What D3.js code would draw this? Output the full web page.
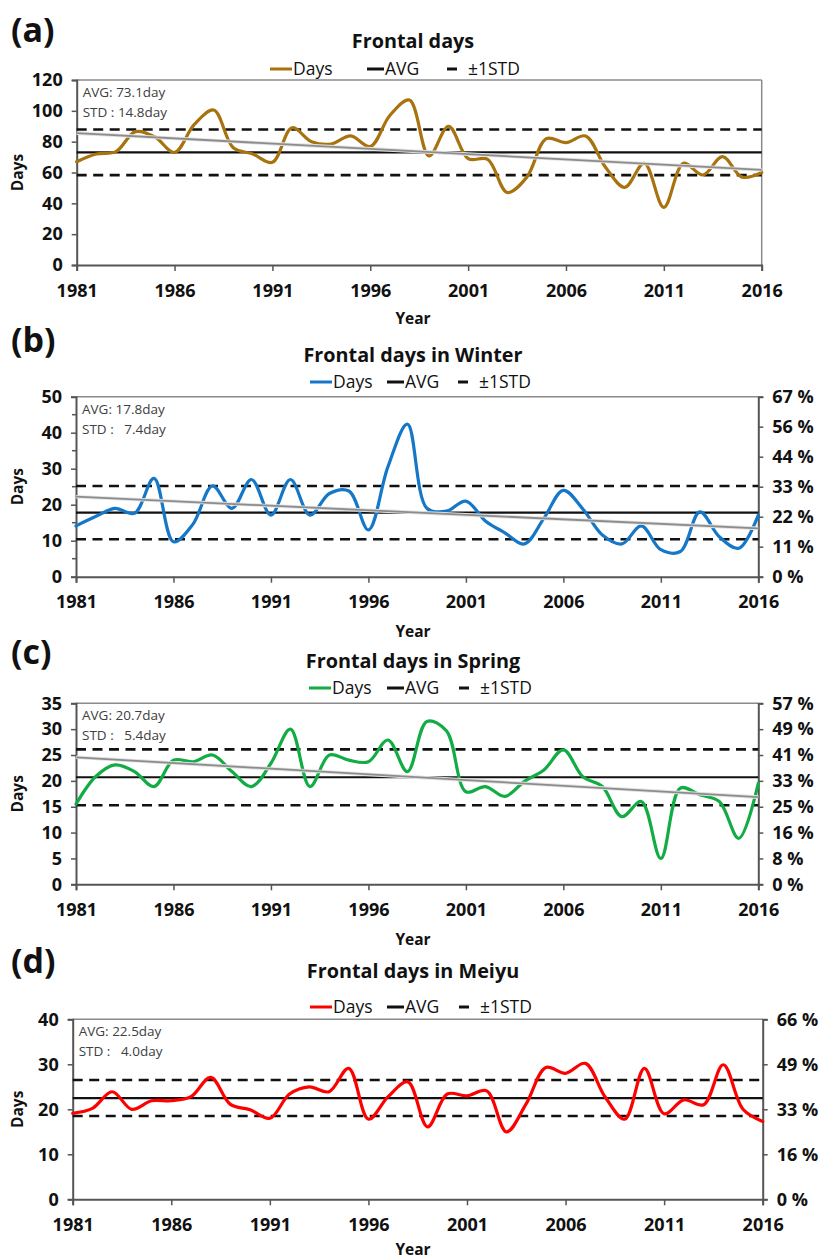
<!DOCTYPE html>
<html>
<head>
<meta charset="utf-8">
<script src="https://cdn.jsdelivr.net/npm/d3@7"></script>
<style>
  html, body { margin: 0; padding: 0; background: #fff; }
  svg { display: block; font-family: "Open Sans", "Noto Sans", "DejaVu Sans", sans-serif; }
  .pre { white-space: pre; }
</style>
</head>
<body>
<svg id="chart" width="822" height="1259"></svg>
<script>
// ---- data -------------------------------------------------------------
const years = d3.range(1981, 2017);

const allDays = [67, 72, 73.5, 86.5, 83, 73, 91, 100.5, 76, 72, 66.6, 89, 80, 78.5, 83.7, 76.8, 97, 107,
  70.7, 90, 69, 68.5, 47, 57, 82, 79.4, 83.7, 63.8, 50.4, 66, 37.4, 66, 58.4, 70.3, 57, 60];
const winterDays = [14.1, 16.7, 19, 17.6, 27.3, 9.7, 14.6, 25.2, 19, 27, 17.1, 27, 17.1, 23.1, 23.8, 13, 30.5, 42.4,
  19, 18.2, 21, 15.5, 12.2, 9.1, 16.2, 24, 18.8, 11.6, 9.1, 14.1, 7.5, 7, 18, 11.1, 7.9, 17.1];
const springDays = [15.5, 20.8, 23.1, 21.8, 18.9, 24, 23.7, 25, 21.8, 18.9, 23.4, 30, 18.9, 25, 24, 23.7, 27.9, 21.8,
  31.5, 29.7, 17.9, 18.9, 17, 19.9, 22.1, 26, 20.8, 18.9, 13.1, 16, 5, 18.6, 17.3, 16, 8.9, 19.5];
const meiyuDays = [19.1, 20.2, 23.9, 20, 21.9, 21.9, 22.8, 27.1, 21.1, 19.9, 18, 23.4, 25, 23.9, 29.1, 17.8, 22.8, 26.1,
  16.1, 23.4, 23, 24.1, 15, 21.2, 29.3, 28, 30.2, 22.8, 17.8, 29.1, 19, 22.1, 21, 29.9, 20, 17.3];

const panelSeries = [allDays, winterDays, springDays, meiyuDays];
const panelLetters = ["(a)", "(b)", "(c)", "(d)"];
const panelTitles = ["Frontal days", "Frontal days in Winter", "Frontal days in Spring", "Frontal days in Meiyu"];
const avgValues = [73.1, 17.8, 20.7, 22.5];
const stdValues = [14.8, 7.4, 5.4, 4.0];
const yMaxValues = [120, 50, 35, 40];
const yStepValues = [20, 10, 5, 10];
const seasonLengths = [null, 75, 61, 61];   // days in season, for the % axis
const pctDivisions = [0, 6, 7, 4];          // number of intervals on the % axis
const showTrend = [true, true, true, false];
const xTickYears = [1981, 1986, 1991, 1996, 2001, 2006, 2011, 2016];
const legendLabels = ["Days", "AVG", "\u00B11STD"];

// ---- layout -----------------------------------------------------------
const lineColors = ["#A8730F", "#1577C8", "#12AC45", "#FF0000"];
const frames = [
  { left: 76.7, right: 761.7, top: 80, bottom: 265, letterY: 42, titleY: 48, legendY: 75, yearY: 324,
    legendX: [270, 367, 447], minor: false },
  { left: 76, right: 758.3, top: 396.7, bottom: 576.7, letterY: 352, titleY: 362, legendY: 388, yearY: 637,
    legendX: [310, 387, 458], minor: true },
  { left: 76, right: 758.3, top: 703.3, bottom: 884.3, letterY: 664, titleY: 668, legendY: 694, yearY: 945,
    legendX: [309, 387, 459], minor: false },
  { left: 72.7, right: 762.7, top: 1019.3, bottom: 1199.3, letterY: 973, titleY: 978, legendY: 1013, yearY: 1255,
    legendX: [310, 387, 459], minor: false }
];
const legendLens = [22, 17, 10];

const svg = d3.select("#chart");
const axisColor = "#555";
const frameColor = "#8a8a8a";
const tickFont = "'Open Sans', sans-serif";

function linearFit(xs, ys) {
  const mx = d3.mean(xs), my = d3.mean(ys);
  let num = 0, den = 0;
  xs.forEach((x, i) => { num += (x - mx) * (ys[i] - my); den += (x - mx) * (x - mx); });
  const b = num / den;
  return x => my + b * (x - mx);
}

function styleAxis(sel) {
  sel.select(".domain").attr("stroke", axisColor).attr("stroke-width", 2);
  sel.selectAll(".tick line").attr("stroke", axisColor).attr("stroke-width", 1.5);
  sel.selectAll("text").attr("font-size", 18).attr("font-weight", 700).attr("fill", "#111")
    .attr("font-family", tickFont);
}

panelSeries.forEach((series, p) => {
  const f = frames[p];
  const g = svg.append("g");
  const x = d3.scaleLinear().domain([1981, 2016]).range([f.left, f.right]);
  const y = d3.scaleLinear().domain([0, yMaxValues[p]]).range([f.bottom, f.top]);
  const midX = 413;

  // panel letter
  g.append("text").attr("x", 11).attr("y", f.letterY)
    .attr("font-size", 34).attr("font-weight", 700).attr("fill", "#111")
    .text(panelLetters[p]);

  // title
  g.append("text").attr("x", midX).attr("y", f.titleY).attr("text-anchor", "middle")
    .attr("font-size", 19.8).attr("font-weight", 700).attr("fill", "#111")
    .text(panelTitles[p]);

  // legend
  const legColors = [lineColors[p], "#111", "#111"];
  legendLabels.forEach((label, i) => {
    const x0 = f.legendX[i];
    g.append("line").attr("x1", x0).attr("x2", x0 + legendLens[i])
      .attr("y1", f.legendY - 6).attr("y2", f.legendY - 6)
      .attr("stroke", legColors[i]).attr("stroke-width", 3);
    g.append("text").attr("x", x0 + legendLens[i] + (i === 2 ? 11 : 1)).attr("y", f.legendY)
      .attr("font-size", 17.5).attr("fill", "#111").text(label);
  });

  // plot frame (top and right)
  g.append("line").attr("x1", f.left).attr("x2", f.right).attr("y1", f.top).attr("y2", f.top)
    .attr("stroke", frameColor).attr("stroke-width", 1.5);
  if (!seasonLengths[p]) {
    g.append("line").attr("x1", f.right).attr("x2", f.right).attr("y1", f.top).attr("y2", f.bottom)
      .attr("stroke", frameColor).attr("stroke-width", 1.5);
  }

  // left axis
  const yTicks = d3.range(0, yMaxValues[p] + 0.001, yStepValues[p]);
  const yAxis = g.append("g").attr("transform", `translate(${f.left},0)`)
    .call(d3.axisLeft(y).tickValues(yTicks).tickSize(5).tickPadding(9).tickFormat(d3.format("d")));
  styleAxis(yAxis);
  if (f.minor) {
    const minorTicks = d3.range(yStepValues[p] / 2, yMaxValues[p], yStepValues[p]);
    g.selectAll(null).data(minorTicks).enter().append("line")
      .attr("x1", f.left - 4).attr("x2", f.left).attr("y1", d => y(d)).attr("y2", d => y(d))
      .attr("stroke", axisColor).attr("stroke-width", 1.5);
  }

  // right % axis
  if (seasonLengths[p]) {
    const pctMax = yMaxValues[p] / seasonLengths[p] * 100;
    const n = pctDivisions[p];
    const yPct = d3.scaleLinear().domain([0, pctMax]).range([f.bottom, f.top]);
    const rAxis = g.append("g").attr("transform", `translate(${f.right},0)`)
      .call(d3.axisRight(yPct).tickValues(d3.range(n + 1).map(i => i * pctMax / n))
        .tickSize(5).tickPadding(9).tickFormat(v => Math.round(v) + " %"));
    styleAxis(rAxis);
  }

  // bottom axis
  const xAxis = g.append("g").attr("transform", `translate(0,${f.bottom})`)
    .call(d3.axisBottom(x).tickValues(xTickYears).tickSize(6).tickPadding(13).tickFormat(d3.format("d")));
  styleAxis(xAxis);

  // axis titles
  g.append("text").attr("x", midX).attr("y", f.yearY).attr("text-anchor", "middle")
    .attr("font-size", 15.5).attr("font-weight", 700).attr("fill", "#111").text("Year");
  g.append("text")
    .attr("transform", `translate(23,${(f.top + f.bottom) / 2}) rotate(-90)`)
    .attr("text-anchor", "middle").attr("font-size", 15.5).attr("font-weight", 700).attr("fill", "#111")
    .text("Days");

  // stats text
  g.append("text").attr("x", f.left + 6).attr("y", f.top + 17)
    .attr("font-size", 13.5).attr("fill", "#404040").attr("class", "pre")
    .text(`AVG: ${avgValues[p].toFixed(1)}day`);
  const stdStr = stdValues[p].toFixed(1);
  g.append("text").attr("x", f.left + 6).attr("y", f.top + 37)
    .attr("font-size", 13.5).attr("fill", "#404040").attr("class", "pre")
    .text(`STD :${stdStr.length < 4 ? "   " : " "}${stdStr}day`);

  // ±1 STD dashed lines
  [avgValues[p] + stdValues[p], avgValues[p] - stdValues[p]].forEach(v => {
    g.append("line").attr("x1", f.left).attr("x2", f.right).attr("y1", y(v)).attr("y2", y(v))
      .attr("stroke", "#111").attr("stroke-width", 2.6).attr("stroke-dasharray", "10,6.5");
  });

  // average line
  g.append("line").attr("x1", f.left).attr("x2", f.right)
    .attr("y1", y(avgValues[p])).attr("y2", y(avgValues[p]))
    .attr("stroke", "#111").attr("stroke-width", 2.2);

  // data curve
  const line = d3.line().x((d, i) => x(years[i])).y(d => y(d)).curve(d3.curveCatmullRom.alpha(0.5));
  g.append("path").datum(series).attr("d", line)
    .attr("fill", "none").attr("stroke", lineColors[p]).attr("stroke-width", 3.2)
    .attr("stroke-linejoin", "round").attr("stroke-linecap", "round");

  // linear trend
  if (showTrend[p]) {
    const fit = linearFit(years, series);
    g.append("line").attr("x1", x(1981)).attr("x2", x(2016))
      .attr("y1", y(fit(1981))).attr("y2", y(fit(2016)))
      .attr("stroke", "#e2e2e2").attr("stroke-width", 3.6);
    g.append("line").attr("x1", x(1981)).attr("x2", x(2016))
      .attr("y1", y(fit(1981))).attr("y2", y(fit(2016)))
      .attr("stroke", "#8c8c8c").attr("stroke-width", 1.8);
  }
});
</script>
</body>
</html>
